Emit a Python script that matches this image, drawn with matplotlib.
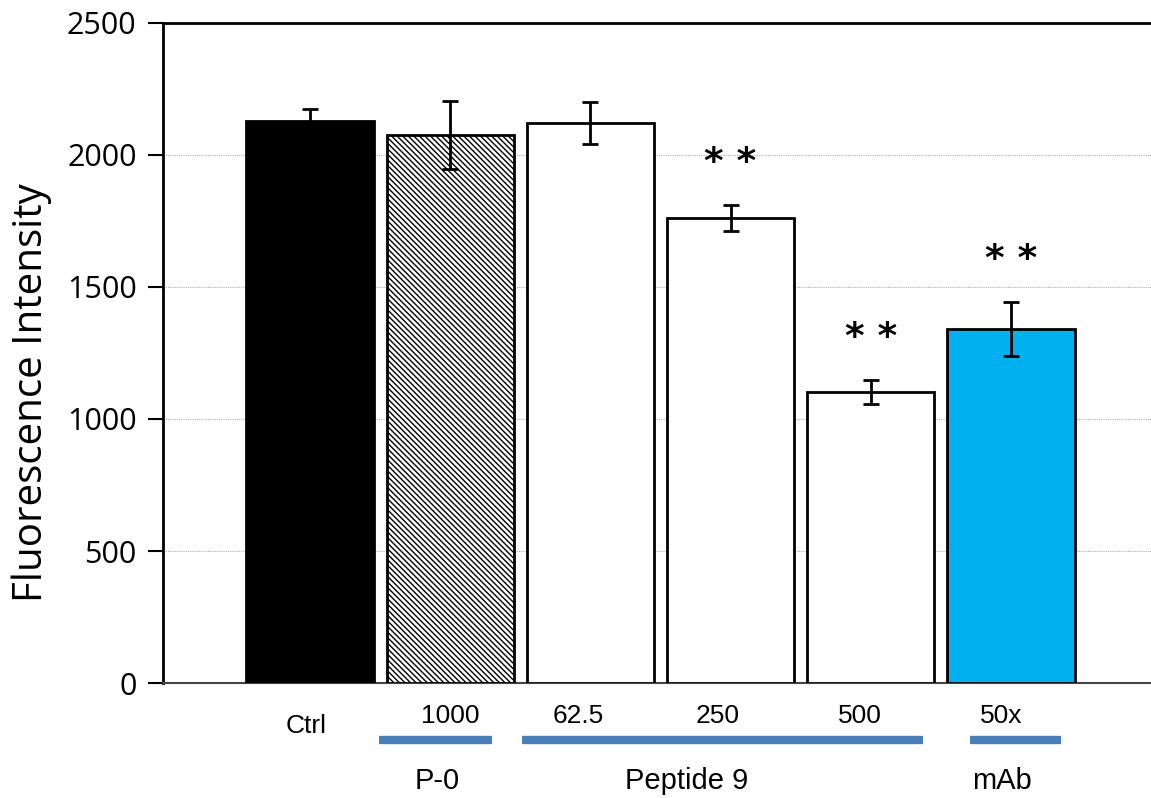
import matplotlib
matplotlib.use("Agg")
import matplotlib.pyplot as plt
from matplotlib.transforms import blended_transform_factory
import numpy as np

# ---- data ----
categories = ["Ctrl", "1000", "62.5", "250", "500", "50x"]
values = [2129, 2076, 2121, 1761, 1102, 1341]
errors = [45, 130, 78, 49, 47, 104]
significant = [False, False, False, True, True, True]
groups = ["P-0", "Peptide 9", "mAb"]
yticks = [0, 500, 1000, 1500, 2000, 2500]

# ---- style ----
colors = ["black", "white", "white", "white", "white", "#00B0F0"]
hatches = [None, "\\\\\\\\\\\\", None, None, None, None]
fig = plt.figure(figsize=(11.51, 7.98), dpi=100)
ax = fig.add_axes([0.1416, 0.1441, 0.8584, 0.8271])

x = np.arange(len(categories))
plt.rcParams['hatch.linewidth'] = 1.0
for i in range(len(categories)):
    ax.bar(x[i], values[i], width=0.91, color=colors[i], edgecolor="black",
           linewidth=2, hatch=hatches[i], zorder=3)
ax.errorbar(x, values, yerr=errors, fmt="none", ecolor="black", elinewidth=2,
            capsize=6, capthick=2, zorder=4)
for i in range(len(categories)):
    if significant[i]:
        ax.text(x[i], values[i] + errors[i] + 90, "* *", ha="center", va="bottom",
                fontsize=27, fontweight="bold", family="DejaVu Sans")

ax.set_xlim(-1.05, 6.0)
ax.set_ylim(0, 2500)
ax.set_yticks(yticks)
ax.set_yticklabels([str(t) for t in yticks], fontsize=22, family="Open Sans")
ax.tick_params(axis="y", length=11, width=1.5, pad=8)
ax.set_xticks([])
ax.yaxis.grid(True, color="#b0b0b0", linestyle=(0, (1, 1)), linewidth=0.8, zorder=0)
ax.set_axisbelow(True)
for s in ["left", "top"]:
    ax.spines[s].set_linewidth(2)
ax.spines["bottom"].set_linewidth(1.5)
ax.spines["bottom"].set_color("#444444")
ax.spines["right"].set_visible(False)
ax.set_ylabel("Fluorescence Intensity", fontsize=29, family="Open Sans")
ax.yaxis.set_label_coords(-0.112, 0.44)

trans = blended_transform_factory(ax.transData, ax.transAxes)
narrow = ["Liberation Sans Narrow", "Liberation Sans", "DejaVu Sans"]
# dose labels
dose_offsets = [-0.03, 0.0, -0.09, -0.09, -0.08, -0.07]
dose_y = [-0.065, -0.05, -0.05, -0.05, -0.05, -0.05]
for i, c in enumerate(categories):
    ax.text(x[i] + dose_offsets[i], dose_y[i], c, transform=trans, ha="center",
            va="center", fontsize=19, family=narrow, clip_on=False)
# group lines and labels
line_spans = [(0.49, 1.3), (1.51, 4.37), (4.71, 5.36)]
label_x = [0.91, 2.69, 4.94]
for g, (a, b), lx in zip(groups, line_spans, label_x):
    ax.plot([a, b], [-0.0865, -0.0865], transform=trans, color="#4A7EBB",
            linewidth=6, solid_capstyle="butt", clip_on=False)
    ax.text(lx, -0.148, g, transform=trans, ha="center", va="center",
            fontsize=21, family=narrow, clip_on=False)

fig.savefig("out.png", dpi=100)
